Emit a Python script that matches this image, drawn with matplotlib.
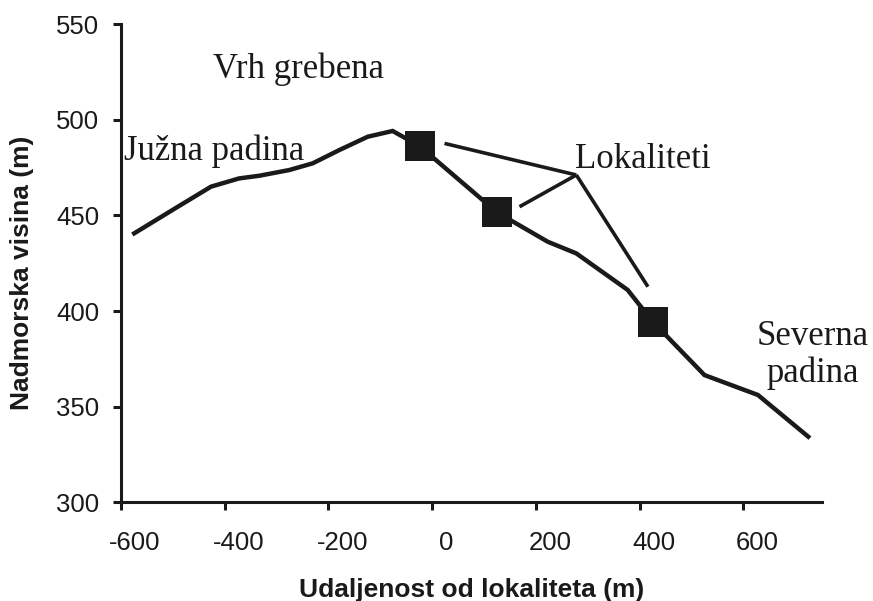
import numpy as np
import matplotlib
matplotlib.use('Agg')
import matplotlib.pyplot as plt
from matplotlib.transforms import ScaledTranslation

# terrain profile across the ridge (distance from site, elevation)
profile_x = [-574, -490, -426, -372, -333, -275, -230, -179, -124, -76, -24, 125, 223, 278, 377, 425, 525, 628, 725]
profile_y = [440.6, 454.5, 465.0, 469.3, 470.7, 473.7, 477.2, 484.1, 491.1, 494.1, 486.2, 451.6, 436.2, 430.1, 411.0, 394.5, 366.5, 356.1, 334.3]

# sampling sites
site_x = [-24, 125, 425]
site_y = [486.2, 451.6, 394.5]

# pointer lines for the "Lokaliteti" label: apex -> end of each line
apex = (278, 471.1)
pointer_ends = [(24, 487.6), (168.5, 454.5), (416, 412.7)]

x_ticks = [-600, -400, -200, 0, 200, 400, 600]
y_ticks = [300, 350, 400, 450, 500, 550]

ink = '#1a1a1a'
plt.rcParams['font.family'] = ['Liberation Sans', 'DejaVu Sans']
plt.rcParams['axes.unicode_minus'] = False  # plain hyphen like the original

fig = plt.figure(figsize=(8.73, 6.01), dpi=100)
ax = fig.add_axes([0.1383, 0.1642, 0.9419 - 0.1383, 0.960 - 0.1642])

ax.plot(profile_x, profile_y, color=ink, linewidth=3.2, solid_joinstyle='miter', zorder=2)
ax.plot(site_x, site_y, linestyle='none', marker='s', markersize=22,
        color=ink, markeredgewidth=0, zorder=3)

for end in pointer_ends:
    ax.plot([apex[0], end[0]], [apex[1], end[1]], color=ink, linewidth=2.6,
            solid_capstyle='butt', zorder=2)

ax.set_xlim(-600, 752)
ax.set_ylim(300, 550)
ax.set_xticks(x_ticks)
ax.set_yticks(y_ticks)

for side in ['top', 'right']:
    ax.spines[side].set_visible(False)
for side in ['left', 'bottom']:
    ax.spines[side].set_linewidth(2.2)
    ax.spines[side].set_color(ink)

ax.tick_params(axis='both', direction='out', length=6, width=2.2, color=ink,
               labelsize=18.5, labelcolor=ink)
ax.tick_params(axis='x', pad=15)
ax.tick_params(axis='y', pad=9.3)

# the x tick labels sit a little to the right of their ticks in the original
shift = ScaledTranslation(14 / 100, 0, fig.dpi_scale_trans)
for lbl in ax.get_xticklabels():
    lbl.set_transform(lbl.get_transform() + shift)

ax.set_xlabel('Udaljenost od lokaliteta (m)', fontsize=19, fontweight='bold', color=ink)
ax.set_ylabel('Nadmorska visina (m)', fontsize=19, fontweight='bold', color=ink)
ax.xaxis.set_label_coords(0.5, -0.158)
ax.yaxis.set_label_coords(-0.123, 0.48)

# serif annotations on the profile
serif = dict(family=['Liberation Serif', 'DejaVu Serif'], fontsize=25, color=ink)
ax.text(-258, 522.0, 'Vrh grebena', ha='center', va='baseline', **serif)
ax.text(-594, 478.9, 'Južna padina', ha='left', va='baseline', **serif)
ax.text(274.6, 474.6, 'Lokaliteti', ha='left', va='baseline', **serif)
ax.text(733, 382.2, 'Severna', ha='center', va='baseline', clip_on=False, **serif)
ax.text(733, 363.0, 'padina', ha='center', va='baseline', clip_on=False, **serif)

fig.savefig('out.png', dpi=100, facecolor='white')
